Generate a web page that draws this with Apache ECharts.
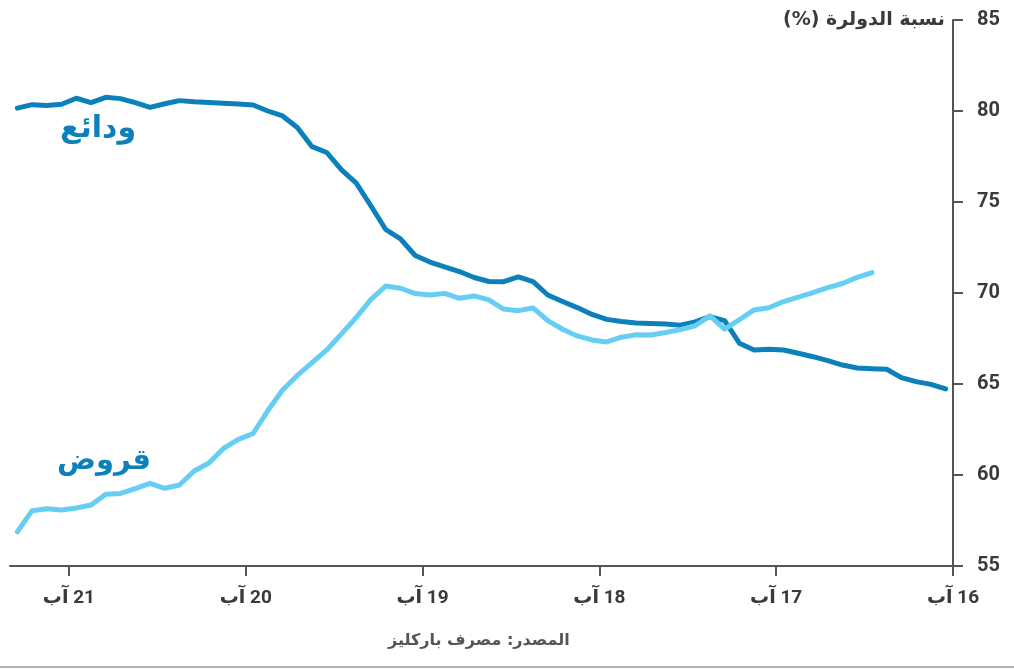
<!DOCTYPE html>
<html>
<head>
<meta charset="utf-8">
<script src="https://cdn.jsdelivr.net/npm/echarts@6/dist/echarts.min.js"></script>
<style>
html,body{margin:0;padding:0;background:#fff;}
#chart{width:1014px;height:669px;direction:rtl;}
</style>
</head>
<body>
<div id="chart"></div>
<script>
// Month 0 = Aug 2016; points plotted mid-month
const xTickLabels = ['16 آب', '17 آب', '18 آب', '19 آب', '20 آب', '21 آب'];
const yTicks = [55, 60, 65, 70, 75, 80, 85];

// Deposits dollarization (%), Aug 2016 -> Nov 2021, monthly
const depositsStart = 0;
const deposits = [
  64.73, 64.98, 65.13, 65.35, 65.81, 65.84, 65.88, 66.04, 66.28, 66.50,
  66.69, 66.87, 66.91, 66.87, 67.24, 68.48, 68.70, 68.41, 68.23, 68.30,
  68.32, 68.35, 68.43, 68.55, 68.82, 69.20, 69.53, 69.89, 70.62, 70.88,
  70.62, 70.63, 70.85, 71.18, 71.43, 71.70, 72.06, 72.97, 73.49, 74.78,
  76.04, 76.76, 77.72, 78.04, 79.09, 79.73, 80.00, 80.33, 80.38, 80.42,
  80.47, 80.51, 80.57, 80.40, 80.20, 80.46, 80.68, 80.75, 80.46, 80.70,
  80.37, 80.30, 80.35, 80.16
];

// Loans dollarization (%), Jan 2017 -> Nov 2021, monthly
const loansStart = 5;
const loans = [
  71.12, 70.86, 70.52, 70.30, 70.02, 69.77, 69.53, 69.19, 69.07, 68.53,
  68.01, 68.74, 68.20, 67.99, 67.83, 67.69, 67.71, 67.57, 67.31, 67.42,
  67.64, 68.01, 68.48, 69.18, 69.03, 69.12, 69.62, 69.84, 69.71, 69.98,
  69.89, 69.97, 70.26, 70.38, 69.65, 68.66, 67.75, 66.87, 66.17, 65.47,
  64.67, 63.54, 62.28, 61.96, 61.47, 60.66, 60.22, 59.45, 59.27, 59.54,
  59.25, 58.99, 58.94, 58.35, 58.19, 58.08, 58.15, 58.04, 56.88
];

const toPoints = (arr, start) => arr.map((v, i) => [start + i + 0.5, v]);

const numFont = "'Roboto', 'DejaVu Sans', sans-serif";
const axisColor = '#555555';
const textColor = '#3a3a3a';
const darkBlue = '#0b80ba';
const lightBlue = '#66cdf3';

const chart = echarts.init(document.getElementById('chart'), null, {renderer: 'canvas'});
chart.setOption({
  backgroundColor: '#ffffff',
  animation: false,
  grid: {left: 10, right: 61, top: 20, bottom: 103, containLabel: false},
  xAxis: {
    type: 'value',
    min: 0,
    max: 64,
    interval: 12,
    inverse: true,
    position: 'bottom',
    axisLine: {show: true, lineStyle: {color: axisColor, width: 2}},
    axisTick: {show: true, inside: false, length: 10, lineStyle: {color: axisColor, width: 2}},
    splitLine: {show: false},
    axisLabel: {
      show: true,
      margin: 23,
      showMaxLabel: false,
      color: textColor,
      fontSize: 19,
      fontWeight: 'bold',
      fontFamily: numFont,
      formatter: v => xTickLabels[Math.round(v / 12)] || ''
    }
  },
  yAxis: {
    type: 'value',
    position: 'right',
    min: 55,
    max: 85,
    interval: 5,
    axisLine: {show: true, lineStyle: {color: axisColor, width: 2}},
    axisTick: {show: true, inside: false, length: 10, lineStyle: {color: axisColor, width: 2}},
    splitLine: {show: false},
    axisLabel: {
      show: true,
      margin: 24,
      color: textColor,
      fontSize: 20,
      fontWeight: 'bold',
      fontFamily: numFont,
      formatter: v => (yTicks.indexOf(v) >= 0 ? String(v) : '')
    }
  },
  series: [
    {
      name: 'ودائع',
      type: 'line',
      data: toPoints(deposits, depositsStart),
      showSymbol: false,
      symbol: 'none',
      lineStyle: {color: darkBlue, width: 5, cap: 'round', join: 'round'},
      itemStyle: {color: darkBlue},
      z: 2
    },
    {
      name: 'قروض',
      type: 'line',
      data: toPoints(loans, loansStart),
      showSymbol: false,
      symbol: 'none',
      lineStyle: {color: lightBlue, width: 5, cap: 'round', join: 'round'},
      itemStyle: {color: lightBlue},
      z: 3
    }
  ],
  graphic: [
    {
      type: 'text', right: 69, top: 11,
      style: {text: 'نسبة الدولرة (%)', fill: textColor, font: "bold 19px 'DejaVu Sans', sans-serif"}
    },
    {
      type: 'text', left: 60, top: 114,
      style: {text: 'ودائع', fill: darkBlue, font: "bold 30px 'DejaVu Sans', sans-serif"}
    },
    {
      type: 'text', left: 57, top: 447,
      style: {text: 'قروض', fill: darkBlue, font: "bold 29px 'DejaVu Sans', sans-serif"}
    },
    {
      type: 'text', left: 388, top: 633,
      style: {text: 'المصدر: مصرف باركليز', fill: '#555555', font: "bold 16px 'DejaVu Sans', sans-serif"}
    },
    {
      type: 'line',
      shape: {x1: 0, y1: 667, x2: 1014, y2: 667},
      style: {stroke: '#b0b0b0', lineWidth: 2}
    }
  ]
});
</script>
</body>
</html>
